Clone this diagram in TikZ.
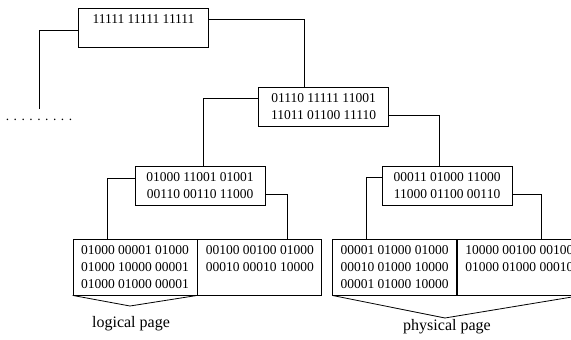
\documentclass[tikz,border=0pt]{standalone}
\usepackage{fontspec}
\setmainfont{Liberation Serif}
\usetikzlibrary{positioning}

\begin{document}
\begin{tikzpicture}[x=1pt,y=-1pt,line width=0.8pt,
    box/.style={draw,align=center,minimum width=130pt,minimum height=39pt,
      inner ysep=4.5pt,font=\fontsize{13.5}{17}\selectfont},
    cell/.style={draw,align=center,minimum width=124pt,minimum height=56pt,
      inner ysep=4.5pt,font=\fontsize{13.5}{17}\selectfont},
    lbl/.style={font=\fontsize{16}{19}\selectfont}]
  \useasboundingbox (0,0) rectangle (571,340);
  % tree of directory nodes
  \node[box] (root) at (143.5,27.5) {11111 11111 11111\\\mbox{}};
  \node[box] (n11) at (323.5,106.5) {01110 11111 11001\\11011 01100 11110};
  \node[box] (n21) at (200,185.5) {01000 11001 01001\\00110 00110 11000};
  \node[box] (n22) at (447,186) {00011 01000 11000\\11000 01100 00110};
  \node[font=\fontsize{13.5}{17}\selectfont] (dots) at (39,120) {. . . . . . . . .};
  % leaf pages
  \node[cell] (la1) at (135,267) {01000 00001 01000\\01000 10000 00001\\01000 01000 00001};
  \node[cell,right=0pt of la1] (la2) {00100 00100 01000\\00010 00010 10000\\\mbox{}};
  \node[cell] (lb1) at (394.5,267) {00001 01000 01000\\00010 01000 10000\\00001 01000 10000};
  \node[cell,right=0pt of lb1] (lb2) {10000 00100 00100\\01000 01000 00010\\\mbox{}};
  % connectors
  \draw ([yshift=-3pt]root.west) -| ([yshift=6pt]dots.north);
  \draw ([yshift=8.5pt]root.east) -| ([xshift=-19.5pt]n11.north);
  \draw ([yshift=8.5pt]n11.west) -| ([xshift=3pt]n21.north);
  \draw ([yshift=-8.5pt]n11.east) -| ([xshift=-8pt]n22.north);
  \draw ([yshift=7.5pt]n21.west) -| ([xshift=-28pt]la1.north);
  \draw ([yshift=-8.5pt]n21.east) -| ([xshift=28pt]la2.north);
  \draw ([yshift=9pt]n22.west) -| ([xshift=-28.5pt]lb1.north);
  \draw ([yshift=-8pt]n22.east) -| ([xshift=22pt]lb2.north);
  % page markers
  \coordinate (tipA) at (130,306);
  \coordinate (tipB) at (445,318);
  \draw (la1.south west) -- (tipA) -- (la1.south east);
  \draw (lb1.south west) -- (tipB) -- (lb2.south east);
  \node[lbl] (labA) at (131,324) {logical page};
  \node[lbl] (labB) at (447,327) {physical page};
\end{tikzpicture}
\end{document}
